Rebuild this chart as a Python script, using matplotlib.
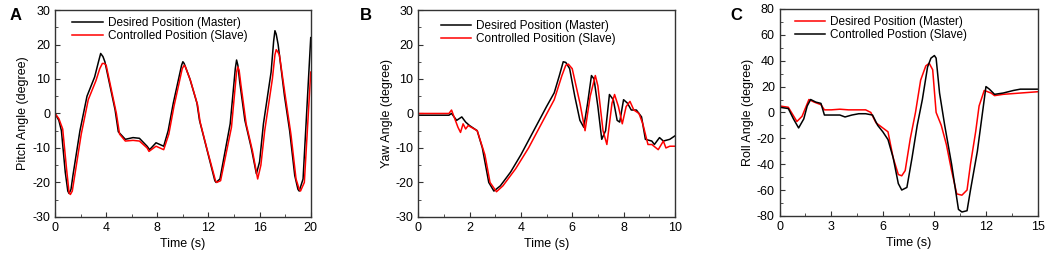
import matplotlib.pyplot as plt
from matplotlib.ticker import MultipleLocator

plt.rcParams['font.family'] = ['Liberation Sans', 'DejaVu Sans']
plt.rcParams['axes.unicode_minus'] = False

# ---- Panel A: pitch ----
pitch_t_master = [0, 0.3, 0.5, 0.8, 1.0, 1.1, 1.25, 1.4, 1.95, 2.5, 3.1, 3.4, 3.57, 3.75, 3.9, 4.3, 4.7,
                  4.95, 5.5, 6.1, 6.6, 7.2, 7.4, 7.9, 8.5, 8.85, 9.25, 9.9, 10.0, 10.1, 10.55, 11.1,
                  11.3, 11.85, 12.5, 12.6, 12.9, 13.7, 14.1, 14.2, 14.3, 14.45, 14.85, 15.35, 15.75,
                  16.0, 16.3, 16.9, 17.1, 17.2, 17.3, 17.45, 17.95, 18.35, 18.75, 19.0, 19.1, 19.4, 20]
pitch_master = [0, -2, -5, -17, -22.5, -23.2, -22, -18, -5, 5, 10.6, 15, 17.4, 16.5, 15, 8, 1,
                -5.3, -7.5, -7, -7.2, -9.5, -10.5, -8.5, -9.5, -5, 3, 14, 15, 14.5, 10, 3,
                -2, -10, -19.5, -20, -19, -3, 13, 15.5, 14, 9, -2, -10, -17.5,
                -14, -3, 12, 21, 24, 23, 20, 5, -5, -18, -22, -22.5, -19, 22]
pitch_t_slave = [0, 0.3, 0.6, 0.9, 1.1, 1.2, 1.35, 1.5, 2.05, 2.6, 3.2, 3.5, 3.7, 3.85, 4.0, 4.4, 4.8,
                 5.05, 5.5, 6.1, 6.6, 7.2, 7.35, 7.9, 8.5, 8.9, 9.3, 9.95, 10.1, 10.2, 10.6, 11.15,
                 11.35, 11.9, 12.55, 12.65, 12.95, 13.8, 14.2, 14.3, 14.4, 14.55, 14.95, 15.45, 15.85,
                 16.1, 16.4, 17.0, 17.2, 17.3, 17.4, 17.55, 18.05, 18.45, 18.85, 19.1, 19.2, 19.5, 20]
pitch_slave = [0, -1.5, -4.5, -16, -23, -23.5, -22.5, -19, -6, 4, 9.5, 13, 14.5, 14.5, 14, 7, 0,
               -6, -8, -7.8, -8, -10, -11, -9.5, -10.5, -6, 2, 13, 14, 13.5, 9.5, 2.5,
               -2.5, -10.5, -19.5, -20, -19.5, -4, 12, 13.5, 12.5, 8, -3, -11, -19,
               -15, -5, 10, 17, 18.5, 18, 17, 4, -6, -19, -22, -22.5, -20, 12]

# ---- Panel B: yaw ----
yaw_t_master = [0, 1.2, 1.3, 1.5, 1.7, 1.85, 2.0, 2.3, 2.5, 2.75, 2.95, 3.2, 3.6, 4.0, 4.5, 5.0, 5.3,
                5.5, 5.65, 5.75, 5.9, 6.1, 6.3, 6.45, 6.6, 6.75, 6.85, 7.0, 7.15, 7.3, 7.45, 7.6,
                7.75, 7.85, 8.0, 8.15, 8.3, 8.5, 8.7, 8.85, 9.1, 9.2, 9.4, 9.55, 9.8, 10]
yaw_master = [-0.5, -0.5, 0, -2, -1, -2.5, -3.5, -5, -10, -20, -22.5, -21, -17, -12, -5, 2, 6,
              11, 15, 14.8, 13, 5, -2, -4, 3, 11, 10, 2, -7.5, -5, 5.5, 4,
              -2, -2.5, 4, 3, 1, 1, -1, -7.5, -8, -9, -7, -8, -7.5, -6.5]
yaw_t_slave = [0, 1.2, 1.3, 1.4, 1.55, 1.65, 1.75, 1.85, 1.95, 2.3, 2.6, 2.8, 3.05, 3.3, 3.8, 4.3,
               4.8, 5.3, 5.6, 5.75, 5.85, 6.0, 6.3, 6.5, 6.7, 6.9, 7.0, 7.2, 7.35, 7.55, 7.65, 7.8,
               7.95, 8.1, 8.25, 8.4, 8.6, 8.75, 8.95, 9.1, 9.35, 9.55, 9.65, 9.8, 10]
yaw_slave = [0, 0, 1, -1, -4, -5.5, -3, -4.5, -3.5, -5, -12, -20, -22.7, -21, -16, -10,
             -3, 4, 11, 14, 14.3, 13, 3, -5, 5, 11, 8, -5, -9, 3, 5.5, 2,
             -3, 2, 3.5, 1, 0, -3, -9, -9, -10.5, -8, -10, -9.5, -9.5]

# ---- Panel C: roll ----
roll_t_master = [0, 0.5, 1.0, 1.3, 1.7, 2.0, 2.4, 2.6, 3.0, 3.5, 4.0, 4.5, 5.0, 5.3, 5.6, 6.0, 6.3,
                 6.6, 6.9, 7.1, 7.3, 7.6, 7.9, 8.2, 8.5, 8.7, 8.9, 9.1, 9.4, 9.7, 10.0, 10.3,
                 10.6, 10.9, 11.1, 11.4, 11.6, 11.9, 12.3, 12.5, 13, 14, 15]
roll_master = [5, 4, -7, -3, 10, 8, 6, 2, 2, 2.5, 2, 2, 2, 0, -8, -12, -15,
               -35, -48, -49, -45, -20, 0, 25, 36, 38, 33, 0, -10, -25, -45, -63,
               -64, -60, -40, -15, 5, 17, 15, 13, 14, 15, 16]
roll_t_slave = [0, 0.5, 0.8, 1.1, 1.4, 1.6, 1.8, 2.1, 2.4, 2.6, 3.0, 3.5, 3.8, 4.2, 4.6, 5.0, 5.4,
                5.7, 6.0, 6.3, 6.6, 6.9, 7.1, 7.4, 7.7, 8.0, 8.3, 8.6, 8.8, 9.0, 9.1, 9.3, 9.6,
                10.0, 10.4, 10.6, 10.9, 11.1, 11.5, 11.8, 12.0, 12.2, 12.5, 13, 13.6, 14, 15]
roll_slave = [4, 3, -5, -12, -5, 5, 10, 8, 7, -2, -2, -2, -3.5, -2, -1, -1, -2,
              -10, -15, -21, -35, -55, -60, -58, -35, -10, 10, 35, 42, 44, 42, 15, -10,
              -40, -75, -77, -76, -60, -30, 0, 20, 18, 14, 15, 17, 18, 18]

fig = plt.figure(figsize=(10.48, 2.57), dpi=100)


def style_axes(ax, xlim, xmaj, xmin, ylim, ymaj, ymin, ylabel):
    ax.set_xlim(*xlim)
    ax.set_ylim(*ylim)
    ax.xaxis.set_major_locator(MultipleLocator(xmaj))
    ax.xaxis.set_minor_locator(MultipleLocator(xmin))
    ax.yaxis.set_major_locator(MultipleLocator(ymaj))
    ax.yaxis.set_minor_locator(MultipleLocator(ymin))
    ax.tick_params(which='both', direction='in', top=False, right=False,
                   labelsize=9, color='#333333', pad=3.5)
    ax.tick_params(which='major', length=3.5)
    ax.tick_params(which='minor', length=2)
    for s in ax.spines.values():
        s.set_color('#333333')
        s.set_linewidth(1.0)
    ax.set_xlabel('Time (s)', fontsize=9, labelpad=3)
    ax.set_ylabel(ylabel, fontsize=9, labelpad=2)


leg_kw = dict(loc='upper left', frameon=False, fontsize=8.5, handlelength=2.6,
              borderaxespad=0.2, labelspacing=0.1, handletextpad=0.4)

# Panel A
axA = fig.add_axes([0.0525, 0.156, 0.244, 0.805])
axA.plot(pitch_t_master, pitch_master, color='black', lw=1.1, label='Desired Position (Master)')
axA.plot(pitch_t_slave, pitch_slave, color='#ff0000', lw=1.1, label='Controlled Position (Slave)')
style_axes(axA, (0, 20), 4, 2, (-30, 30), 10, 5, 'Pitch Angle (degree)')
axA.legend(bbox_to_anchor=(0.04, 1.0), **leg_kw)
fig.text(0.009, 0.94, 'A', fontsize=12, fontweight='bold', va='center')

# Panel B
axB = fig.add_axes([0.399, 0.156, 0.245, 0.805])
axB.plot(yaw_t_master, yaw_master, color='black', lw=1.1, label='Desired Position (Master)')
axB.plot(yaw_t_slave, yaw_slave, color='#ff0000', lw=1.1, label='Controlled Position (Slave)')
style_axes(axB, (0, 10), 2, 1, (-30, 30), 10, 5, 'Yaw Angle (degree)')
axB.legend(bbox_to_anchor=(0.06, 0.985), **leg_kw)
fig.text(0.343, 0.94, 'B', fontsize=12, fontweight='bold', va='center')

# Panel C
axC = fig.add_axes([0.744, 0.16, 0.246, 0.805])
axC.plot(roll_t_master, roll_master, color='#ff0000', lw=1.1, label='Desired Position (Master)')
axC.plot(roll_t_slave, roll_slave, color='black', lw=1.1, label='Controlled Postion (Slave)')
style_axes(axC, (0, 15), 3, 1.5, (-80, 80), 20, 10, 'Roll Angle (degree)')
axC.legend(bbox_to_anchor=(0.03, 1.0), **leg_kw)
fig.text(0.697, 0.94, 'C', fontsize=12, fontweight='bold', va='center')

fig.savefig('out.png', dpi=100)
